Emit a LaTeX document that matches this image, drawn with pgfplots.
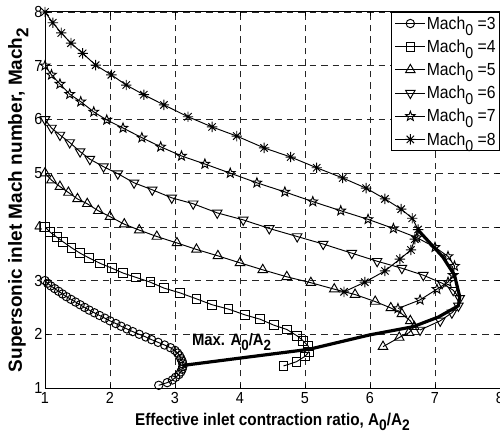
\documentclass[border=0pt]{standalone}
\usepackage{fontspec}
\setmainfont{Liberation Sans}
\newfontfamily\nar{Liberation Sans}[FakeStretch=0.9]
\usepackage{graphicx}
\usepackage{pgfplots}
\pgfplotsset{compat=1.18}
\newcommand\sub[1]{\raisebox{-0.65ex}{\scalebox{0.9}{#1}}}

\pgfdeclareplotmark{pentagram}{%
  \pgfpathmoveto{\pgfpointpolar{90}{\pgfplotmarksize}}%
  \pgfpathlineto{\pgfpointpolar{126}{0.42\pgfplotmarksize}}%
  \pgfpathlineto{\pgfpointpolar{162}{\pgfplotmarksize}}%
  \pgfpathlineto{\pgfpointpolar{198}{0.42\pgfplotmarksize}}%
  \pgfpathlineto{\pgfpointpolar{234}{\pgfplotmarksize}}%
  \pgfpathlineto{\pgfpointpolar{270}{0.42\pgfplotmarksize}}%
  \pgfpathlineto{\pgfpointpolar{306}{\pgfplotmarksize}}%
  \pgfpathlineto{\pgfpointpolar{342}{0.42\pgfplotmarksize}}%
  \pgfpathlineto{\pgfpointpolar{18}{\pgfplotmarksize}}%
  \pgfpathlineto{\pgfpointpolar{54}{0.42\pgfplotmarksize}}%
  \pgfpathclose
  \pgfusepathqstroke}
\pgfdeclareplotmark{mstar}{%
  \pgfpathmoveto{\pgfqpoint{-\pgfplotmarksize}{0pt}}\pgfpathlineto{\pgfqpoint{\pgfplotmarksize}{0pt}}%
  \pgfpathmoveto{\pgfqpoint{0pt}{-\pgfplotmarksize}}\pgfpathlineto{\pgfqpoint{0pt}{\pgfplotmarksize}}%
  \pgfpathmoveto{\pgfpointpolar{45}{\pgfplotmarksize}}\pgfpathlineto{\pgfpointpolar{225}{\pgfplotmarksize}}%
  \pgfpathmoveto{\pgfpointpolar{135}{\pgfplotmarksize}}\pgfpathlineto{\pgfpointpolar{315}{\pgfplotmarksize}}%
  \pgfusepathqstroke}

\begin{document}
\begin{tikzpicture}
\begin{axis}[
  scale only axis, width=455pt, height=376pt,
  xmin=1, xmax=8, ymin=1, ymax=8,
  xtick={1,2,3,4,5,6,7,8}, ytick={1,2,3,4,5,6,7,8},
  grid=major,
  major grid style={black!85, line width=0.55pt, dash pattern=on 6.5pt off 5pt},
  axis line style={line width=1pt},
  tick align=inside, major tick length=4pt,
  tick style={black, line width=0.6pt},
  /pgf/number format/assume math mode=true,
  ticklabel style={font=\nar\fontsize{16}{16}\selectfont},
  xticklabel style={yshift=-1pt},
  yticklabel style={xshift=1pt},
  xlabel={Effective inlet contraction ratio, A\sub{0}/A\sub{2}},
  ylabel={Supersonic inlet Mach number, Mach\sub{2}},
  xlabel style={font=\nar\fontsize{17}{17}\selectfont\bfseries, at={(axis description cs:0.5,-0.0984)}, anchor=base},
  ylabel style={font=\fontsize{19}{19}\selectfont\bfseries, at={(axis description cs:-0.059,0.5)}, anchor=center},
  legend style={at={(rel axis cs:1,1)}, anchor=north east, draw=black, line width=0.9pt, fill=white,
    font=\nar\fontsize{17.5}{17.5}\selectfont, row sep=7pt, inner sep=3pt,
    nodes={inner sep=1pt}},
  legend cell align=left,
  legend image code/.code={\draw[mark repeat=2,mark phase=2] plot coordinates {(0pt,0pt) (15pt,0pt) (30pt,0pt)};},
  every axis plot/.append style={black, line width=0.95pt, mark options={solid, fill=none, line width=0.95pt}},
]
\coordinate (bl) at (rel axis cs:0,0);
\coordinate (tr) at (rel axis cs:1,1);

% Mach0 = 3
\addplot[mark=o, mark size=4.2pt] coordinates {
(1.00,3.00)(1.04,2.95)(1.09,2.90)(1.15,2.85)(1.21,2.80)(1.27,2.75)(1.33,2.70)(1.40,2.65)
(1.47,2.60)(1.54,2.55)(1.61,2.50)(1.68,2.45)(1.76,2.40)(1.84,2.35)(1.92,2.30)(2.00,2.25)
(2.09,2.20)(2.17,2.15)(2.26,2.10)(2.35,2.05)(2.45,2.00)(2.55,1.95)(2.64,1.90)(2.74,1.85)
(2.84,1.80)(2.93,1.75)(3.00,1.70)(3.04,1.65)(3.07,1.60)(3.09,1.55)(3.11,1.50)(3.12,1.45)
(3.12,1.40)(3.11,1.35)(3.09,1.30)(3.06,1.25)(3.01,1.20)(2.96,1.15)(2.88,1.10)(2.75,1.05)
};
\addlegendentry{Mach\sub{0} =3}

% Mach0 = 4
\addplot[mark=square, mark size=4.3pt] coordinates {
(1.00,4.00)(1.08,3.90)(1.18,3.81)(1.28,3.72)(1.41,3.61)(1.54,3.51)(1.68,3.42)(1.85,3.32)
(2.03,3.23)(2.20,3.14)(2.40,3.06)(2.62,2.97)(2.83,2.86)(3.08,2.77)(3.33,2.66)(3.57,2.55)
(3.82,2.47)(4.08,2.36)(4.31,2.28)(4.52,2.17)(4.72,2.09)(4.88,1.97)(4.97,1.88)(5.05,1.78)
(5.06,1.67)(5.00,1.59)(4.87,1.49)(4.67,1.41)
};
\addlegendentry{Mach\sub{0} =4}

% Mach0 = 5
\addplot[mark=triangle, mark size=5.5pt] coordinates {
(1.00,5.00)(1.10,4.87)(1.23,4.75)(1.36,4.64)(1.50,4.52)(1.65,4.43)(1.82,4.30)(2.00,4.19)
(2.22,4.05)(2.45,3.94)(2.72,3.82)(3.03,3.70)(3.33,3.58)(3.66,3.46)(4.00,3.33)(4.35,3.20)
(4.72,3.07)(5.09,2.96)(5.45,2.84)(5.77,2.74)(6.08,2.61)(6.32,2.49)(6.49,2.38)(6.62,2.25)
(6.68,2.14)(6.60,2.03)(6.45,1.94)(6.20,1.77)
};
\addlegendentry{Mach\sub{0} =5}

% Mach0 = 6
\addplot[mark=triangle, mark size=5.5pt, mark options={rotate=180}] coordinates {
(1.00,6.00)(1.10,5.84)(1.23,5.71)(1.38,5.57)(1.54,5.40)(1.69,5.26)(1.90,5.12)(2.12,4.99)
(2.37,4.82)(2.65,4.69)(2.95,4.54)(3.28,4.43)(3.65,4.26)(4.05,4.13)(4.45,3.97)(4.88,3.82)
(5.28,3.68)(5.72,3.51)(6.11,3.36)(6.49,3.23)(6.82,3.10)(7.11,2.95)(7.28,2.82)(7.38,2.67)
(7.36,2.53)(7.26,2.40)(7.08,2.25)(6.77,2.08)
};
\addlegendentry{Mach\sub{0} =6}

% Mach0 = 7
\addplot[mark=pentagram, mark size=5pt] coordinates {
(1.00,7.00)(1.10,6.83)(1.23,6.66)(1.38,6.47)(1.55,6.33)(1.75,6.14)(1.95,5.99)(2.20,5.84)
(2.49,5.66)(2.78,5.49)(3.10,5.32)(3.46,5.17)(3.85,5.00)(4.26,4.82)(4.69,4.65)(5.12,4.47)
(5.55,4.30)(5.97,4.14)(6.36,3.97)(6.72,3.80)(7.00,3.62)(7.20,3.45)(7.30,3.27)(7.28,3.10)
(7.20,2.97)(7.03,2.84)(6.77,2.64)(6.43,2.48)
};
\addlegendentry{Mach\sub{0} =7}

% Mach0 = 8
\addplot[mark=mstar, mark size=5.2pt] coordinates {
(1.00,8.00)(1.12,7.80)(1.25,7.61)(1.40,7.42)(1.58,7.23)(1.78,7.01)(2.02,6.83)(2.25,6.64)
(2.52,6.46)(2.83,6.27)(3.20,6.05)(3.57,5.86)(3.95,5.69)(4.37,5.47)(4.78,5.30)(5.18,5.10)
(5.58,4.91)(5.94,4.72)(6.23,4.52)(6.48,4.33)(6.65,4.16)(6.74,3.95)(6.69,3.77)(6.63,3.57)
(6.46,3.40)(6.23,3.18)(5.92,2.97)(5.60,2.79)
};
\addlegendentry{Mach\sub{0} =8}

% locus of maximum contraction ratio
\addplot[forget plot, no marks, line width=3.2pt, line join=round] coordinates {
(3.12,1.42)(4.15,1.58)(5.06,1.72)(6.00,1.99)(6.66,2.14)(7.05,2.32)(7.36,2.53)(7.38,2.70)
(7.30,3.10)(7.12,3.44)(6.74,3.94)
};

\node[anchor=base west, font=\nar\fontsize{16.5}{16.5}\selectfont\bfseries, inner sep=0pt]
  at (axis cs:3.26,1.80) {Max. A\sub{0}/A\sub{2}};
\end{axis}
\pgfresetboundingbox
\path[use as bounding box] ([xshift=-45pt,yshift=-48pt]bl) rectangle ([yshift=12pt]tr);
\end{tikzpicture}
\end{document}
